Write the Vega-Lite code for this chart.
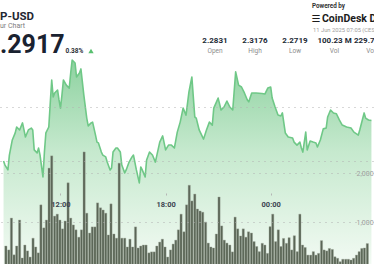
{
  "$schema": "https://vega.github.io/schema/vega-lite/v6.json",
  "width": 374,
  "height": 264,
  "autosize": {"type": "none"},
  "padding": 0,
  "background": "white",
  "config": {"view": {"stroke": null}, "font": "Roboto"},
  "datasets": {
    "price": [
      {"time": "2025-06-10T08:45Z", "price": 2.2800},
      {"time": "2025-06-10T08:50Z", "price": 2.2785},
      {"time": "2025-06-10T09:00Z", "price": 2.2767},
      {"time": "2025-06-10T09:05Z", "price": 2.2822},
      {"time": "2025-06-10T09:15Z", "price": 2.2878},
      {"time": "2025-06-10T09:25Z", "price": 2.2904},
      {"time": "2025-06-10T09:30Z", "price": 2.2926},
      {"time": "2025-06-10T09:40Z", "price": 2.2915},
      {"time": "2025-06-10T09:50Z", "price": 2.2941},
      {"time": "2025-06-10T09:55Z", "price": 2.2915},
      {"time": "2025-06-10T10:00Z", "price": 2.2889},
      {"time": "2025-06-10T10:10Z", "price": 2.2915},
      {"time": "2025-06-10T10:20Z", "price": 2.2922},
      {"time": "2025-06-10T10:25Z", "price": 2.2915},
      {"time": "2025-06-10T10:30Z", "price": 2.2841},
      {"time": "2025-06-10T10:40Z", "price": 2.2830},
      {"time": "2025-06-10T10:45Z", "price": 2.2848},
      {"time": "2025-06-10T10:50Z", "price": 2.2822},
      {"time": "2025-06-10T11:00Z", "price": 2.2741},
      {"time": "2025-06-10T11:05Z", "price": 2.2833},
      {"time": "2025-06-10T11:10Z", "price": 2.2904},
      {"time": "2025-06-10T11:20Z", "price": 2.2926},
      {"time": "2025-06-10T11:25Z", "price": 2.3015},
      {"time": "2025-06-10T11:30Z", "price": 2.3100},
      {"time": "2025-06-10T11:35Z", "price": 2.3037},
      {"time": "2025-06-10T11:40Z", "price": 2.3052},
      {"time": "2025-06-10T11:50Z", "price": 2.3063},
      {"time": "2025-06-10T11:55Z", "price": 2.3026},
      {"time": "2025-06-10T12:00Z", "price": 2.2996},
      {"time": "2025-06-10T12:05Z", "price": 2.3044},
      {"time": "2025-06-10T12:10Z", "price": 2.3100},
      {"time": "2025-06-10T12:20Z", "price": 2.3081},
      {"time": "2025-06-10T12:30Z", "price": 2.3070},
      {"time": "2025-06-10T12:35Z", "price": 2.3126},
      {"time": "2025-06-10T12:40Z", "price": 2.3174},
      {"time": "2025-06-10T12:50Z", "price": 2.3163},
      {"time": "2025-06-10T12:55Z", "price": 2.3111},
      {"time": "2025-06-10T13:05Z", "price": 2.3126},
      {"time": "2025-06-10T13:10Z", "price": 2.3141},
      {"time": "2025-06-10T13:20Z", "price": 2.3044},
      {"time": "2025-06-10T13:30Z", "price": 2.2959},
      {"time": "2025-06-10T13:35Z", "price": 2.2930},
      {"time": "2025-06-10T13:45Z", "price": 2.2941},
      {"time": "2025-06-10T13:50Z", "price": 2.2944},
      {"time": "2025-06-10T14:00Z", "price": 2.2896},
      {"time": "2025-06-10T14:05Z", "price": 2.2870},
      {"time": "2025-06-10T14:10Z", "price": 2.2867},
      {"time": "2025-06-10T14:20Z", "price": 2.2833},
      {"time": "2025-06-10T14:25Z", "price": 2.2822},
      {"time": "2025-06-10T14:35Z", "price": 2.2815},
      {"time": "2025-06-10T14:40Z", "price": 2.2796},
      {"time": "2025-06-10T14:50Z", "price": 2.2767},
      {"time": "2025-06-10T14:55Z", "price": 2.2774},
      {"time": "2025-06-10T15:00Z", "price": 2.2833},
      {"time": "2025-06-10T15:10Z", "price": 2.2848},
      {"time": "2025-06-10T15:15Z", "price": 2.2848},
      {"time": "2025-06-10T15:25Z", "price": 2.2833},
      {"time": "2025-06-10T15:30Z", "price": 2.2785},
      {"time": "2025-06-10T15:40Z", "price": 2.2756},
      {"time": "2025-06-10T15:45Z", "price": 2.2767},
      {"time": "2025-06-10T15:55Z", "price": 2.2796},
      {"time": "2025-06-10T16:05Z", "price": 2.2815},
      {"time": "2025-06-10T16:10Z", "price": 2.2822},
      {"time": "2025-06-10T16:20Z", "price": 2.2767},
      {"time": "2025-06-10T16:30Z", "price": 2.2719},
      {"time": "2025-06-10T16:35Z", "price": 2.2778},
      {"time": "2025-06-10T16:40Z", "price": 2.2767},
      {"time": "2025-06-10T16:50Z", "price": 2.2741},
      {"time": "2025-06-10T16:55Z", "price": 2.2804},
      {"time": "2025-06-10T17:05Z", "price": 2.2833},
      {"time": "2025-06-10T17:15Z", "price": 2.2822},
      {"time": "2025-06-10T17:25Z", "price": 2.2796},
      {"time": "2025-06-10T17:40Z", "price": 2.2870},
      {"time": "2025-06-10T17:50Z", "price": 2.2893},
      {"time": "2025-06-10T18:00Z", "price": 2.2841},
      {"time": "2025-06-10T18:10Z", "price": 2.2859},
      {"time": "2025-06-10T18:20Z", "price": 2.2859},
      {"time": "2025-06-10T18:30Z", "price": 2.2848},
      {"time": "2025-06-10T18:40Z", "price": 2.2907},
      {"time": "2025-06-10T18:50Z", "price": 2.2944},
      {"time": "2025-06-10T19:00Z", "price": 2.2996},
      {"time": "2025-06-10T19:10Z", "price": 2.2970},
      {"time": "2025-06-10T19:20Z", "price": 2.3056},
      {"time": "2025-06-10T19:30Z", "price": 2.3111},
      {"time": "2025-06-10T19:40Z", "price": 2.2963},
      {"time": "2025-06-10T19:45Z", "price": 2.2959},
      {"time": "2025-06-10T19:55Z", "price": 2.2915},
      {"time": "2025-06-10T20:10Z", "price": 2.2881},
      {"time": "2025-06-10T20:20Z", "price": 2.2915},
      {"time": "2025-06-10T20:30Z", "price": 2.2944},
      {"time": "2025-06-10T20:40Z", "price": 2.2933},
      {"time": "2025-06-10T20:45Z", "price": 2.2996},
      {"time": "2025-06-10T21:00Z", "price": 2.3033},
      {"time": "2025-06-10T21:10Z", "price": 2.2989},
      {"time": "2025-06-10T21:20Z", "price": 2.3000},
      {"time": "2025-06-10T21:30Z", "price": 2.3022},
      {"time": "2025-06-10T21:40Z", "price": 2.3000},
      {"time": "2025-06-10T21:50Z", "price": 2.2989},
      {"time": "2025-06-10T22:00Z", "price": 2.3130},
      {"time": "2025-06-10T22:10Z", "price": 2.3081},
      {"time": "2025-06-10T22:20Z", "price": 2.3074},
      {"time": "2025-06-10T22:30Z", "price": 2.3052},
      {"time": "2025-06-10T22:40Z", "price": 2.3026},
      {"time": "2025-06-10T22:45Z", "price": 2.3019},
      {"time": "2025-06-10T22:55Z", "price": 2.3052},
      {"time": "2025-06-10T23:10Z", "price": 2.3052},
      {"time": "2025-06-10T23:30Z", "price": 2.3050},
      {"time": "2025-06-10T23:40Z", "price": 2.3048},
      {"time": "2025-06-10T23:50Z", "price": 2.3070},
      {"time": "2025-06-11T00:00Z", "price": 2.3074},
      {"time": "2025-06-11T00:05Z", "price": 2.3033},
      {"time": "2025-06-11T00:15Z", "price": 2.3000},
      {"time": "2025-06-11T00:25Z", "price": 2.2970},
      {"time": "2025-06-11T00:35Z", "price": 2.2967},
      {"time": "2025-06-11T00:40Z", "price": 2.2978},
      {"time": "2025-06-11T00:50Z", "price": 2.2904},
      {"time": "2025-06-11T01:00Z", "price": 2.2889},
      {"time": "2025-06-11T01:15Z", "price": 2.2885},
      {"time": "2025-06-11T01:20Z", "price": 2.2870},
      {"time": "2025-06-11T01:30Z", "price": 2.2859},
      {"time": "2025-06-11T01:40Z", "price": 2.2870},
      {"time": "2025-06-11T01:45Z", "price": 2.2848},
      {"time": "2025-06-11T01:50Z", "price": 2.2833},
      {"time": "2025-06-11T02:00Z", "price": 2.2907},
      {"time": "2025-06-11T02:05Z", "price": 2.2841},
      {"time": "2025-06-11T02:15Z", "price": 2.2874},
      {"time": "2025-06-11T02:25Z", "price": 2.2870},
      {"time": "2025-06-11T02:35Z", "price": 2.2867},
      {"time": "2025-06-11T02:40Z", "price": 2.2852},
      {"time": "2025-06-11T02:50Z", "price": 2.2878},
      {"time": "2025-06-11T03:00Z", "price": 2.2919},
      {"time": "2025-06-11T03:10Z", "price": 2.2922},
      {"time": "2025-06-11T03:15Z", "price": 2.2963},
      {"time": "2025-06-11T03:25Z", "price": 2.2989},
      {"time": "2025-06-11T03:35Z", "price": 2.2978},
      {"time": "2025-06-11T03:45Z", "price": 2.2975},
      {"time": "2025-06-11T03:55Z", "price": 2.2952},
      {"time": "2025-06-11T04:05Z", "price": 2.2933},
      {"time": "2025-06-11T04:20Z", "price": 2.2926},
      {"time": "2025-06-11T04:35Z", "price": 2.2922},
      {"time": "2025-06-11T04:45Z", "price": 2.2907},
      {"time": "2025-06-11T05:00Z", "price": 2.2896},
      {"time": "2025-06-11T05:05Z", "price": 2.2915},
      {"time": "2025-06-11T05:20Z", "price": 2.2978},
      {"time": "2025-06-11T05:25Z", "price": 2.2959},
      {"time": "2025-06-11T05:35Z", "price": 2.2952},
      {"time": "2025-06-11T05:45Z", "price": 2.2950}
    ],
    "volume": [
      {"time": "2025-06-10T08:53Z", "volume": 510},
      {"time": "2025-06-10T09:03Z", "volume": 430},
      {"time": "2025-06-10T09:12Z", "volume": 1080},
      {"time": "2025-06-10T09:21Z", "volume": 330},
      {"time": "2025-06-10T09:30Z", "volume": 510},
      {"time": "2025-06-10T09:40Z", "volume": 1040},
      {"time": "2025-06-10T09:49Z", "volume": 265},
      {"time": "2025-06-10T09:58Z", "volume": 530},
      {"time": "2025-06-10T10:07Z", "volume": 410},
      {"time": "2025-06-10T10:16Z", "volume": 285},
      {"time": "2025-06-10T10:26Z", "volume": 670},
      {"time": "2025-06-10T10:35Z", "volume": 490},
      {"time": "2025-06-10T10:44Z", "volume": 370},
      {"time": "2025-06-10T10:53Z", "volume": 1350},
      {"time": "2025-06-10T11:03Z", "volume": 880},
      {"time": "2025-06-10T11:12Z", "volume": 1040},
      {"time": "2025-06-10T11:21Z", "volume": 2100},
      {"time": "2025-06-10T11:30Z", "volume": 2350},
      {"time": "2025-06-10T11:40Z", "volume": 1120},
      {"time": "2025-06-10T11:49Z", "volume": 1160},
      {"time": "2025-06-10T11:58Z", "volume": 1040},
      {"time": "2025-06-10T12:07Z", "volume": 860},
      {"time": "2025-06-10T12:16Z", "volume": 1020},
      {"time": "2025-06-10T12:26Z", "volume": 1800},
      {"time": "2025-06-10T12:35Z", "volume": 1080},
      {"time": "2025-06-10T12:44Z", "volume": 940},
      {"time": "2025-06-10T12:53Z", "volume": 840},
      {"time": "2025-06-10T13:03Z", "volume": 690},
      {"time": "2025-06-10T13:12Z", "volume": 840},
      {"time": "2025-06-10T13:21Z", "volume": 2430},
      {"time": "2025-06-10T13:30Z", "volume": 1180},
      {"time": "2025-06-10T13:40Z", "volume": 775},
      {"time": "2025-06-10T13:49Z", "volume": 900},
      {"time": "2025-06-10T13:58Z", "volume": 900},
      {"time": "2025-06-10T14:07Z", "volume": 1390},
      {"time": "2025-06-10T14:17Z", "volume": 1290},
      {"time": "2025-06-10T14:26Z", "volume": 1245},
      {"time": "2025-06-10T14:35Z", "volume": 1180},
      {"time": "2025-06-10T14:44Z", "volume": 735},
      {"time": "2025-06-10T14:53Z", "volume": 1370},
      {"time": "2025-06-10T15:03Z", "volume": 755},
      {"time": "2025-06-10T15:12Z", "volume": 670},
      {"time": "2025-06-10T15:21Z", "volume": 2200},
      {"time": "2025-06-10T15:30Z", "volume": 670},
      {"time": "2025-06-10T15:40Z", "volume": 670},
      {"time": "2025-06-10T15:49Z", "volume": 490},
      {"time": "2025-06-10T15:58Z", "volume": 650},
      {"time": "2025-06-10T16:07Z", "volume": 490},
      {"time": "2025-06-10T16:17Z", "volume": 900},
      {"time": "2025-06-10T16:26Z", "volume": 470},
      {"time": "2025-06-10T16:35Z", "volume": 510},
      {"time": "2025-06-10T16:44Z", "volume": 530},
      {"time": "2025-06-10T16:53Z", "volume": 530},
      {"time": "2025-06-10T17:03Z", "volume": 370},
      {"time": "2025-06-10T17:12Z", "volume": 390},
      {"time": "2025-06-10T17:21Z", "volume": 390},
      {"time": "2025-06-10T17:30Z", "volume": 510},
      {"time": "2025-06-10T17:40Z", "volume": 590},
      {"time": "2025-06-10T17:49Z", "volume": 650},
      {"time": "2025-06-10T17:58Z", "volume": 490},
      {"time": "2025-06-10T18:07Z", "volume": 285},
      {"time": "2025-06-10T18:17Z", "volume": 430},
      {"time": "2025-06-10T18:26Z", "volume": 550},
      {"time": "2025-06-10T18:35Z", "volume": 630},
      {"time": "2025-06-10T18:44Z", "volume": 840},
      {"time": "2025-06-10T18:53Z", "volume": 1160},
      {"time": "2025-06-10T19:03Z", "volume": 800},
      {"time": "2025-06-10T19:12Z", "volume": 1350},
      {"time": "2025-06-10T19:21Z", "volume": 1750},
      {"time": "2025-06-10T19:30Z", "volume": 1430},
      {"time": "2025-06-10T19:40Z", "volume": 1570},
      {"time": "2025-06-10T19:49Z", "volume": 1265},
      {"time": "2025-06-10T19:58Z", "volume": 1225},
      {"time": "2025-06-10T20:07Z", "volume": 1200},
      {"time": "2025-06-10T20:17Z", "volume": 1000},
      {"time": "2025-06-10T20:26Z", "volume": 570},
      {"time": "2025-06-10T20:35Z", "volume": 490},
      {"time": "2025-06-10T20:44Z", "volume": 470},
      {"time": "2025-06-10T20:54Z", "volume": 755},
      {"time": "2025-06-10T21:03Z", "volume": 1510},
      {"time": "2025-06-10T21:12Z", "volume": 920},
      {"time": "2025-06-10T21:21Z", "volume": 630},
      {"time": "2025-06-10T21:30Z", "volume": 570},
      {"time": "2025-06-10T21:40Z", "volume": 530},
      {"time": "2025-06-10T21:49Z", "volume": 390},
      {"time": "2025-06-10T21:58Z", "volume": 1100},
      {"time": "2025-06-10T22:07Z", "volume": 860},
      {"time": "2025-06-10T22:17Z", "volume": 715},
      {"time": "2025-06-10T22:26Z", "volume": 860},
      {"time": "2025-06-10T22:35Z", "volume": 690},
      {"time": "2025-06-10T22:44Z", "volume": 800},
      {"time": "2025-06-10T22:54Z", "volume": 775},
      {"time": "2025-06-10T23:03Z", "volume": 600},
      {"time": "2025-06-10T23:12Z", "volume": 500},
      {"time": "2025-06-10T23:21Z", "volume": 395},
      {"time": "2025-06-10T23:31Z", "volume": 565},
      {"time": "2025-06-10T23:40Z", "volume": 530},
      {"time": "2025-06-10T23:49Z", "volume": 360},
      {"time": "2025-06-10T23:58Z", "volume": 905},
      {"time": "2025-06-11T00:07Z", "volume": 1160},
      {"time": "2025-06-11T00:17Z", "volume": 600},
      {"time": "2025-06-11T00:26Z", "volume": 840},
      {"time": "2025-06-11T00:35Z", "volume": 500},
      {"time": "2025-06-11T00:44Z", "volume": 665},
      {"time": "2025-06-11T00:54Z", "volume": 565},
      {"time": "2025-06-11T01:03Z", "volume": 680},
      {"time": "2025-06-11T01:12Z", "volume": 430},
      {"time": "2025-06-11T01:21Z", "volume": 720},
      {"time": "2025-06-11T01:31Z", "volume": 395},
      {"time": "2025-06-11T01:40Z", "volume": 1160},
      {"time": "2025-06-11T01:49Z", "volume": 530},
      {"time": "2025-06-11T01:58Z", "volume": 480},
      {"time": "2025-06-11T02:07Z", "volume": 325},
      {"time": "2025-06-11T02:17Z", "volume": 325},
      {"time": "2025-06-11T02:26Z", "volume": 395},
      {"time": "2025-06-11T02:35Z", "volume": 325},
      {"time": "2025-06-11T02:44Z", "volume": 360},
      {"time": "2025-06-11T02:54Z", "volume": 620},
      {"time": "2025-06-11T03:03Z", "volume": 430},
      {"time": "2025-06-11T03:12Z", "volume": 410},
      {"time": "2025-06-11T03:21Z", "volume": 460},
      {"time": "2025-06-11T03:31Z", "volume": 440},
      {"time": "2025-06-11T03:40Z", "volume": 290},
      {"time": "2025-06-11T03:49Z", "volume": 260},
      {"time": "2025-06-11T03:58Z", "volume": 190},
      {"time": "2025-06-11T04:07Z", "volume": 240},
      {"time": "2025-06-11T04:17Z", "volume": 240},
      {"time": "2025-06-11T04:26Z", "volume": 240},
      {"time": "2025-06-11T04:35Z", "volume": 225},
      {"time": "2025-06-11T04:44Z", "volume": 260},
      {"time": "2025-06-11T04:54Z", "volume": 325},
      {"time": "2025-06-11T05:03Z", "volume": 395},
      {"time": "2025-06-11T05:12Z", "volume": 460},
      {"time": "2025-06-11T05:21Z", "volume": 470},
      {"time": "2025-06-11T05:31Z", "volume": 560}
    ]
  },
  "layer": [
    {
      "data": {"name": "price"},
      "layer": [
        {
          "mark": {
            "type": "area",
            "clip": true,
            "fill": {
              "gradient": "linear",
              "x1": 0, "y1": 0, "x2": 0, "y2": 1,
              "stops": [
                {"offset": 0, "color": "#8ed2a0"},
                {"offset": 0.45, "color": "#c6e9ce"},
                {"offset": 1, "color": "#f2faf3"}
              ]
            }
          },
          "encoding": {
            "x": {
              "field": "time",
              "type": "temporal",
              "scale": {
                "type": "utc",
                "domain": [
                  {"year": 2025, "month": 6, "date": 10, "hours": 8, "minutes": 50, "utc": true},
                  {"year": 2025, "month": 6, "date": 11, "hours": 5, "minutes": 36, "seconds": 40, "utc": true}
                ]
              },
              "axis": {
                "values": [
                  {"year": 2025, "month": 6, "date": 10, "hours": 12, "utc": true},
                  {"year": 2025, "month": 6, "date": 10, "hours": 18, "utc": true},
                  {"year": 2025, "month": 6, "date": 11, "hours": 0, "utc": true},
                  {"year": 2025, "month": 6, "date": 11, "hours": 6, "utc": true}
                ],
                "format": "%H:%M",
                "offset": -71,
                "tickSize": 2,
                "tickColor": "#b5b5b5",
                "domain": false,
                "grid": false,
                "labelFontSize": 7.5,
                "labelFontWeight": "bold",
                "labelColor": "#3b4350",
                "labelPadding": 5,
                "labelFlush": false,
                "labelOverlap": false,
                "labelBound": false,
                "title": null,
                "zindex": 1
              }
            },
            "y": {
              "field": "price",
              "type": "quantitative",
              "scale": {"domain": [2.24185, 2.33963], "nice": false, "zero": false},
              "axis": {
                "values": [2.28, 2.30],
                "grid": true,
                "gridDash": [1, 5],
                "gridColor": "#b0b0b0",
                "labels": false,
                "ticks": false,
                "domain": false,
                "title": null,
                "zindex": 1
              }
            },
            "y2": {"datum": 2.24185}
          }
        },
        {
          "mark": {"type": "line", "clip": true, "color": "#6fc887", "strokeWidth": 1.6, "strokeJoin": "round"},
          "encoding": {
            "x": {"field": "time", "type": "temporal"},
            "y": {"field": "price", "type": "quantitative"}
          }
        }
      ]
    },
    {
      "data": {"name": "volume"},
      "mark": {"type": "bar", "size": 2.2, "color": "#5a6556", "stroke": "#9ba295", "strokeWidth": 0.4, "clip": true},
      "encoding": {
        "x": {"field": "time", "type": "temporal"},
        "y": {
          "field": "volume",
          "type": "quantitative",
          "scale": {"domain": [143, 5531], "nice": false, "zero": false},
          "axis": {
            "orient": "right",
            "values": [1000, 2000],
            "labelExpr": "format(datum.value, ',')",
            "grid": true,
            "gridDash": [1, 5],
            "gridColor": "#b0b0b0",
            "ticks": false,
            "domain": false,
            "title": null,
            "labelAlign": "left",
            "labelBaseline": "middle",
            "labelPadding": -18,
            "labelFontSize": 7,
            "labelColor": "#a0a0a0",
            "zindex": 1
          }
        }
      }
    },
    {
      "data": {"values": [{"t": "P-USD"}]},
      "mark": {"type": "text", "align": "left", "baseline": "alphabetic", "fontSize": 11.5, "fontWeight": "bold", "color": "#1f2733"},
      "encoding": {"text": {"field": "t"}, "x": {"value": 0}, "y": {"value": 20}}
    },
    {
      "data": {"values": [{"t": "ur Chart"}]},
      "mark": {"type": "text", "align": "left", "baseline": "alphabetic", "fontSize": 7, "color": "#7d7d7d"},
      "encoding": {"text": {"field": "t"}, "x": {"value": 0}, "y": {"value": 27.5}}
    },
    {
      "data": {"values": [{"t": ".2917"}]},
      "mark": {"type": "text", "align": "left", "baseline": "alphabetic", "fontSize": 25, "fontWeight": "bold", "color": "#1a2230"},
      "encoding": {"text": {"field": "t"}, "x": {"value": 0}, "y": {"value": 53.3}}
    },
    {
      "data": {"values": [{"t": "0.38%"}]},
      "mark": {"type": "text", "align": "left", "baseline": "alphabetic", "fontSize": 6.5, "fontWeight": "bold", "color": "#2b2f36"},
      "encoding": {"text": {"field": "t"}, "x": {"value": 65.5}, "y": {"value": 52.7}}
    },
    {
      "data": {"values": [{"t": "up"}]},
      "mark": {"type": "point", "shape": "triangle-up", "filled": true, "size": 28, "color": "#58c06f", "opacity": 1},
      "encoding": {"x": {"value": 91}, "y": {"value": 51}}
    },
    {
      "data": {"values": [{"t": "Powered by"}]},
      "mark": {"type": "text", "align": "left", "baseline": "alphabetic", "fontSize": 6.3, "fontWeight": "bold", "color": "#333333"},
      "encoding": {"text": {"field": "t"}, "x": {"value": 312}, "y": {"value": 8.3}}
    },
    {
      "data": {"values": [{"t": "☰"}]},
      "mark": {"type": "text", "align": "left", "baseline": "alphabetic", "fontSize": 10, "font": "DejaVu Sans", "color": "#1c1c1c"},
      "encoding": {"text": {"field": "t"}, "x": {"value": 311.5}, "y": {"value": 21.5}}
    },
    {
      "data": {"values": [{"t": "CoinDesk Data"}]},
      "mark": {"type": "text", "align": "left", "baseline": "alphabetic", "fontSize": 10.5, "fontWeight": "bold", "color": "#1c1c1c"},
      "encoding": {"text": {"field": "t"}, "x": {"value": 322}, "y": {"value": 21.7}}
    },
    {
      "data": {"values": [{"t": "11 Jun 2025 07:05 (CEST)"}]},
      "mark": {"type": "text", "align": "left", "baseline": "alphabetic", "fontSize": 5.8, "color": "#a0a0a0"},
      "encoding": {"text": {"field": "t"}, "x": {"value": 313}, "y": {"value": 31.5}}
    },
    {
      "data": {"values": [{"v": "2.2831", "l": "Open"}]},
      "layer": [
        {"mark": {"type": "text", "align": "center", "baseline": "alphabetic", "fontSize": 8, "fontWeight": "bold", "color": "#222a35"},
         "encoding": {"text": {"field": "v"}, "x": {"value": 215}, "y": {"value": 43.3}}},
        {"mark": {"type": "text", "align": "center", "baseline": "alphabetic", "fontSize": 6.5, "color": "#8c8c8c"},
         "encoding": {"text": {"field": "l"}, "x": {"value": 215}, "y": {"value": 52.5}}}
      ]
    },
    {
      "data": {"values": [{"v": "2.3176", "l": "High"}]},
      "layer": [
        {"mark": {"type": "text", "align": "center", "baseline": "alphabetic", "fontSize": 8, "fontWeight": "bold", "color": "#222a35"},
         "encoding": {"text": {"field": "v"}, "x": {"value": 255}, "y": {"value": 43.3}}},
        {"mark": {"type": "text", "align": "center", "baseline": "alphabetic", "fontSize": 6.5, "color": "#8c8c8c"},
         "encoding": {"text": {"field": "l"}, "x": {"value": 255}, "y": {"value": 52.5}}}
      ]
    },
    {
      "data": {"values": [{"v": "2.2719", "l": "Low"}]},
      "layer": [
        {"mark": {"type": "text", "align": "center", "baseline": "alphabetic", "fontSize": 8, "fontWeight": "bold", "color": "#222a35"},
         "encoding": {"text": {"field": "v"}, "x": {"value": 295}, "y": {"value": 43.3}}},
        {"mark": {"type": "text", "align": "center", "baseline": "alphabetic", "fontSize": 6.5, "color": "#8c8c8c"},
         "encoding": {"text": {"field": "l"}, "x": {"value": 295}, "y": {"value": 52.5}}}
      ]
    },
    {
      "data": {"values": [{"v": "100.23 M", "l": "Vol"}]},
      "layer": [
        {"mark": {"type": "text", "align": "center", "baseline": "alphabetic", "fontSize": 8, "fontWeight": "bold", "color": "#222a35"},
         "encoding": {"text": {"field": "v"}, "x": {"value": 334.5}, "y": {"value": 43.3}}},
        {"mark": {"type": "text", "align": "center", "baseline": "alphabetic", "fontSize": 6.5, "color": "#8c8c8c"},
         "encoding": {"text": {"field": "l"}, "x": {"value": 334.5}, "y": {"value": 52.5}}}
      ]
    },
    {
      "data": {"values": [{"v": "229.78 M", "l": "Vol"}]},
      "layer": [
        {"mark": {"type": "text", "align": "center", "baseline": "alphabetic", "fontSize": 8, "fontWeight": "bold", "color": "#222a35"},
         "encoding": {"text": {"field": "v"}, "x": {"value": 371}, "y": {"value": 43.3}}},
        {"mark": {"type": "text", "align": "center", "baseline": "alphabetic", "fontSize": 6.5, "color": "#8c8c8c"},
         "encoding": {"text": {"field": "l"}, "x": {"value": 371}, "y": {"value": 52.5}}}
      ]
    }
  ],
  "resolve": {"scale": {"y": "independent"}}
}
